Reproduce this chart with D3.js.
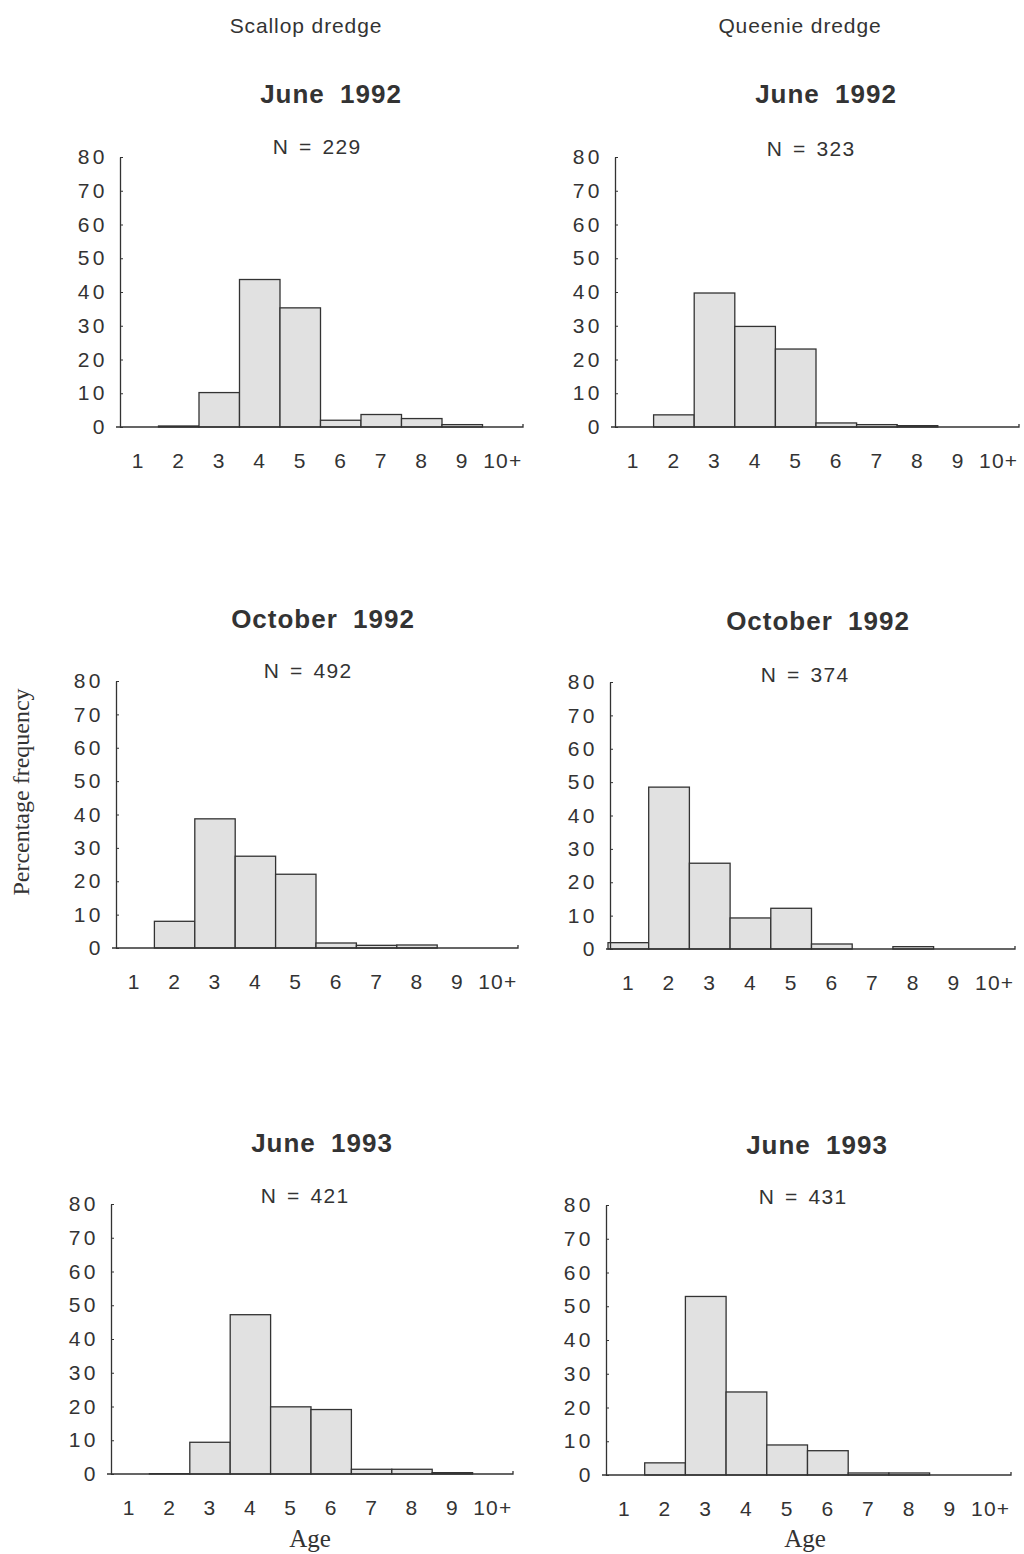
<!DOCTYPE html>
<html>
<head>
<meta charset="utf-8">
<script src="https://cdn.jsdelivr.net/npm/d3@7/dist/d3.min.js"></script>
<style>
  html, body { margin: 0; padding: 0; background: #fff; }
  svg { display: block; }
</style>
</head>
<body>
<svg id="chart" width="1024" height="1554"></svg>
<script>
// Age classes on the x axis and y tick values (percentage frequency)
const ages = ["1", "2", "3", "4", "5", "6", "7", "8", "9", "10+"];
const yTicks = [0, 10, 20, 30, 40, 50, 60, 70, 80];

// Column headings (dredge type) and sampling periods
const gears = ["Scallop dredge", "Queenie dredge"];
const periods = ["June 1992", "October 1992", "June 1993"];

// Sample sizes per period (rows) and gear (columns)
const sampleSizes = [
  [229, 323],
  [492, 374],
  [421, 431]
];

// Percentage frequency by age class
const scallopJun92 = [0, 0.3, 10.2, 43.7, 35.3, 2.0, 3.7, 2.5, 0.7, 0];
const queenieJun92 = [0, 3.6, 39.7, 29.8, 23.1, 1.2, 0.7, 0.4, 0, 0];
const scallopOct92 = [0, 8.0, 38.7, 27.5, 22.1, 1.5, 0.8, 0.9, 0, 0];
const queenieOct92 = [1.9, 48.5, 25.7, 9.3, 12.2, 1.5, 0, 0.7, 0, 0];
const scallopJun93 = [0, 0.1, 9.4, 47.2, 19.9, 19.1, 1.4, 1.4, 0.4, 0];
const queenieJun93 = [0, 3.6, 52.9, 24.6, 8.9, 7.2, 0.6, 0.6, 0, 0];

const seriesGrid = [
  [scallopJun92, queenieJun92],
  [scallopOct92, queenieOct92],
  [scallopJun93, queenieJun93]
];

// Plot frames: [left, right, top(80), bottom(0)] per row/column
const frames = [
  [[118, 523, 157, 427], [613, 1019, 157, 427]],
  [[114, 518, 681, 948], [608, 1015, 682, 949]],
  [[109, 513, 1204, 1474], [604, 1011, 1205, 1475]]
];
// Title / N label anchors: [titleX, titleBaseline, nX, nBaseline]
const labelPos = [
  [[331, 103, 317, 154], [826, 103, 811, 156]],
  [[323, 628, 308, 678], [818, 630, 805, 682]],
  [[322, 1152, 305, 1203], [817, 1154, 803, 1204]]
];

const ink = "#333";
const sans = "'Liberation Sans', Arial, Helvetica, sans-serif";
const serif = "'Liberation Serif', 'Times New Roman', serif";

const svg = d3.select("#chart");

// Column headings
const headX = [306, 800];
gears.forEach((g, c) => {
  svg.append("text")
    .attr("x", headX[c]).attr("y", 33)
    .attr("text-anchor", "middle")
    .attr("font-family", sans).attr("font-size", 21)
    .attr("letter-spacing", 0.9)
    .attr("fill", ink)
    .text(g);
});

seriesGrid.forEach((row, r) => {
  row.forEach((values, c) => {
    const [x0, x1, yTop, yBot] = frames[r][c];
    const [tx, ty, nx, ny] = labelPos[r][c];

    const x = d3.scaleBand().domain(ages).range([x0, x1]).padding(0);
    const y = d3.scaleLinear().domain([0, 80]).range([yBot, yTop]);

    const g = svg.append("g");

    // Period title
    g.append("text")
      .attr("x", tx).attr("y", ty)
      .attr("text-anchor", "middle")
      .attr("font-family", sans).attr("font-size", 26).attr("font-weight", "bold")
      .attr("letter-spacing", 1).attr("word-spacing", 7)
      .attr("fill", ink)
      .text(periods[r]);

    // Sample size
    g.append("text")
      .attr("x", nx).attr("y", ny)
      .attr("text-anchor", "middle")
      .attr("font-family", sans).attr("font-size", 21)
      .attr("letter-spacing", 1.2).attr("word-spacing", 3)
      .attr("fill", ink)
      .text("N = " + sampleSizes[r][c]);

    // Bars
    g.selectAll("rect.bar")
      .data(values.map((v, i) => ({ age: ages[i], v })).filter(d => d.v > 0))
      .join("rect")
      .attr("class", "bar")
      .attr("x", d => x(d.age))
      .attr("width", x.bandwidth())
      .attr("y", d => y(d.v))
      .attr("height", d => y(0) - y(d.v))
      .attr("fill", "#e1e1e1")
      .attr("stroke", "#333")
      .attr("stroke-width", 1.3);

    // Y axis
    const yAxis = d3.axisLeft(y).tickValues(yTicks).tickSize(-3).tickSizeOuter(0).tickPadding(12);
    const ya = g.append("g")
      .attr("transform", `translate(${x0 + 2},0)`)
      .call(yAxis);
    ya.select(".domain").attr("stroke", "#333").attr("stroke-width", 1.3);
    ya.selectAll(".tick line").attr("stroke", "#333").attr("stroke-width", 1);
    ya.selectAll(".tick text")
      .attr("font-family", sans).attr("font-size", 21)
      .attr("letter-spacing", 3.5)
      .attr("fill", ink);

    // X axis labels
    const xAxis = d3.axisBottom(x).tickSize(0).tickPadding(0);
    const xa = g.append("g")
      .attr("transform", `translate(0,${yBot})`)
      .call(xAxis);
    xa.select(".domain").remove();
    xa.selectAll(".tick text")
      .attr("y", 41).attr("dy", 0)
      .attr("font-family", sans).attr("font-size", 21)
      .attr("letter-spacing", 1.2)
      .attr("fill", ink);

    // X axis baseline with a short end tick
    g.append("path")
      .attr("d", d3.line()([[x0 - 2, yBot], [x1, yBot], [x1, yBot - 3]]))
      .attr("fill", "none")
      .attr("stroke", "#333")
      .attr("stroke-width", 1.3);
  });
});

// Shared axis titles
svg.append("text")
  .attr("transform", "translate(29,792) rotate(-90)")
  .attr("text-anchor", "middle")
  .attr("font-family", serif).attr("font-size", 24)
  .attr("fill", ink)
  .text("Percentage frequency");

[310, 805].forEach(ax => {
  svg.append("text")
    .attr("x", ax).attr("y", 1547)
    .attr("text-anchor", "middle")
    .attr("font-family", serif).attr("font-size", 25)
    .attr("fill", ink)
    .text("Age");
});
</script>
</body>
</html>
